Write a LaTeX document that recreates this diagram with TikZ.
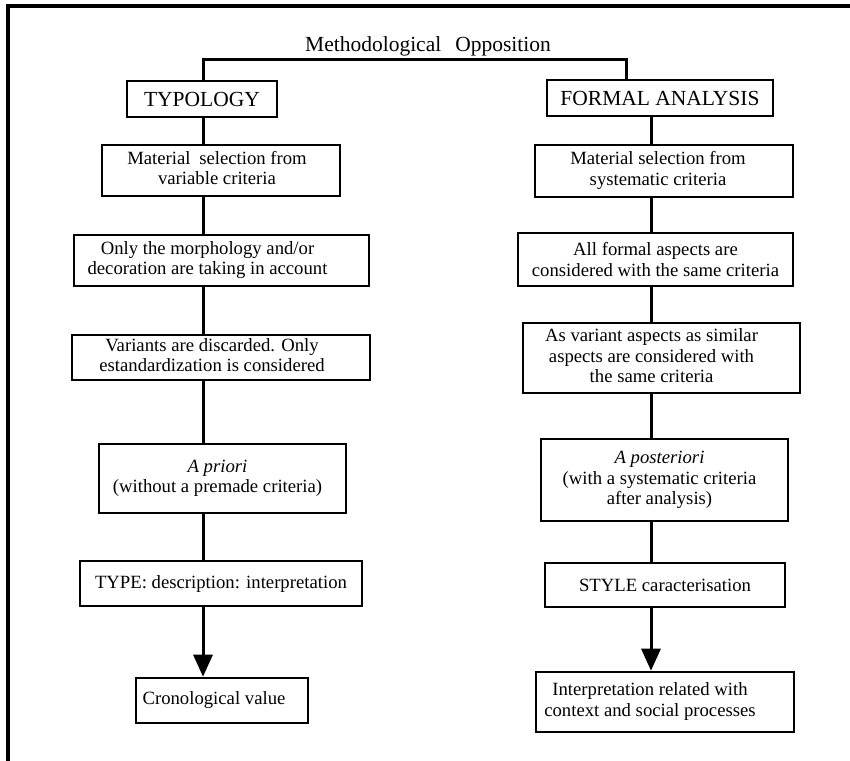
\documentclass[tikz,border=0pt]{standalone}
\usepackage{fontspec}
\setmainfont{Liberation Serif}
\usetikzlibrary{arrows.meta}
% text block whose lines are centred, padded on the right by #1 (shifts text left by #1/2)
\newcommand{\lsh}[2]{\begin{tabular}{@{}c@{\hspace{#1}}}#2\end{tabular}}
\tikzset{
  box/.style={draw, line width=2.6pt, inner sep=0pt, align=center,
    font=\fontsize{18.7}{20.5}\selectfont},
  headbox/.style={draw, line width=2.6pt, inner sep=0pt, align=center,
    font=\fontsize{21.5}{24}\selectfont},
  conn/.style={line width=3pt},
  arr/.style={line width=3pt, -{Triangle[length=22pt,width=19pt]}},
  frame/.style={line width=4pt}
}
\begin{document}
\begin{tikzpicture}[x=1pt,y=-1pt]
\useasboundingbox (0,0) rectangle (850,760);
\draw[frame] (8,770) -- (8,6) -- (860,6);
% column axes
\coordinate (colL) at (203,0);
\coordinate (colR) at (651,0);
\coordinate (topL) at (203,59);
\coordinate (topR) at (626,59);
% title
\node[font=\fontsize{21.5}{24}\selectfont, inner sep=0pt, anchor=base] (title) at (428,52) {Methodological\hspace{14pt}Opposition};
% left column
\node[headbox, minimum width=150pt, minimum height=36pt] (typ) at (202,99) {TYPOLOGY};
\node[box, minimum width=238pt, minimum height=51pt] (l1) at (221,170.5) {\lsh{8pt}{Material\hspace{4pt} selection from\\variable criteria}};
\node[box, minimum width=295pt, minimum height=51pt] (l2) at (221.5,260.5) {\lsh{28pt}{Only the morphology and/or\\decoration are taking in account}};
\node[box, minimum width=298pt, minimum height=45pt] (l3) at (221,357.5) {\lsh{18pt}{Variants are discarded. Only\\estandardization is considered}};
\node[box, minimum width=247pt, minimum height=69pt] (l4) at (222.5,478.5) {\lsh{10pt}{\textit{A priori}\\(without a premade criteria)}};
\node[box, minimum width=282pt, minimum height=45pt] (l5) at (221,583.5) {TYPE: description: interpretation};
\node[box, minimum width=172pt, minimum height=45pt] (l6) at (222,700.5) {\lsh{16pt}{Cronological value}};
% right column
\node[headbox, minimum width=226pt, minimum height=36pt] (fa) at (660,98) {FORMAL ANALYSIS};
\node[box, minimum width=258pt, minimum height=52pt] (r1) at (664,171) {\lsh{12pt}{Material selection from\\systematic criteria}};
\node[box, minimum width=275pt, minimum height=53pt] (r2) at (655.5,259.5) {All formal aspects are\\considered with the same criteria};
\node[box, minimum width=277pt, minimum height=70pt] (r3) at (661.5,358) {\lsh{20pt}{As variant aspects as similar\\aspects are considered with\\the same criteria}};
\node[box, minimum width=247pt, minimum height=82pt] (r4) at (664.5,480) {\lsh{10pt}{\textit{A posteriori}\\(with a systematic criteria\\after analysis)}};
\node[box, minimum width=240pt, minimum height=44pt] (r5) at (665,585) {STYLE caracterisation};
\node[box, minimum width=258pt, minimum height=60pt] (r6) at (665,702) {\lsh{30pt}{Interpretation related with\\context and social processes}};
% top bracket
\draw[conn] (typ.north -| topL) -- (topL) -- (topR) -- (fa.north -| topR);
% left connectors
\draw[conn] (typ.south -| colL) -- (l1.north -| colL);
\draw[conn] (l1.south -| colL) -- (l2.north -| colL);
\draw[conn] (l2.south -| colL) -- (l3.north -| colL);
\draw[conn] (l3.south -| colL) -- (l4.north -| colL);
\draw[conn] (l4.south -| colL) -- (l5.north -| colL);
\draw[arr] (l5.south -| colL) -- (l6.north -| colL);
% right connectors
\draw[conn] (fa.south -| colR) -- (r1.north -| colR);
\draw[conn] (r1.south -| colR) -- (r2.north -| colR);
\draw[conn] (r2.south -| colR) -- (r3.north -| colR);
\draw[conn] (r3.south -| colR) -- (r4.north -| colR);
\draw[conn] (r4.south -| colR) -- (r5.north -| colR);
\draw[arr] (r5.south -| colR) -- (r6.north -| colR);
\end{tikzpicture}
\end{document}
